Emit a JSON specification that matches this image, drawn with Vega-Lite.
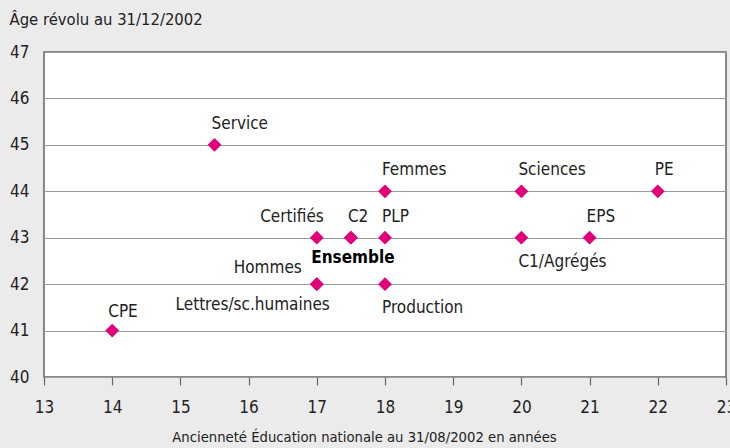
{
  "$schema": "https://vega.github.io/schema/vega-lite/v6.json",
  "width": 682,
  "height": 325,
  "autosize": {"type": "none"},
  "padding": {"left": 44, "top": 52, "right": 4, "bottom": 71},
  "background": "#ebebeb",
  "config": {
    "font": "DejaVu Sans Condensed, Roboto, sans-serif",
    "view": {"fill": "white", "stroke": "#666666", "strokeWidth": 1.5},
    "axis": {"labelFont": "DejaVu Sans Condensed, Roboto, sans-serif", "titleFont": "DejaVu Sans Condensed, Roboto, sans-serif", "labelColor": "#222", "titleColor": "#222"}
  },
  "data": {
    "values": [
      {"categorie": "CPE", "anciennete": 14, "age": 41},
      {"categorie": "Service", "anciennete": 15.5, "age": 45},
      {"categorie": "Hommes", "anciennete": 17, "age": 42},
      {"categorie": "Lettres/sc.humaines", "anciennete": 17, "age": 42},
      {"categorie": "Certifiés", "anciennete": 17, "age": 43},
      {"categorie": "C2", "anciennete": 17.5, "age": 43},
      {"categorie": "Ensemble", "anciennete": 17.5, "age": 43},
      {"categorie": "PLP", "anciennete": 18, "age": 43},
      {"categorie": "Femmes", "anciennete": 18, "age": 44},
      {"categorie": "Production", "anciennete": 18, "age": 42},
      {"categorie": "Sciences", "anciennete": 20, "age": 44},
      {"categorie": "C1/Agrégés", "anciennete": 20, "age": 43},
      {"categorie": "EPS", "anciennete": 21, "age": 43},
      {"categorie": "PE", "anciennete": 22, "age": 44}
    ]
  },
  "encoding": {
    "x": {
      "field": "anciennete", "type": "quantitative",
      "scale": {"domain": [13, 23], "nice": false, "zero": false},
      "axis": {
        "title": "Ancienneté Éducation nationale au 31/08/2002 en années",
        "values": [13,14,15,16,17,18,19,20,21,22,23],
        "grid": false, "domain": false, "ticks": true, "tickColor": "#666", "tickSize": 8, "tickWidth": 1.2,
        "labelFontSize": 17, "labelPadding": 14, "labelOverlap": false, "titleFontSize": 14.7, "titleFontWeight": "normal", "titlePadding": 14,
        "titleX": 320, "titleAlign": "center",
        "labelFlush": false
      }
    },
    "y": {
      "field": "age", "type": "quantitative",
      "scale": {"domain": [40, 47], "nice": false, "zero": false},
      "axis": {
        "title": "Âge révolu au 31/12/2002",
        "values": [40,41,42,43,44,45,46,47],
        "grid": true, "gridColor": "#9a9a9a", "gridWidth": 1,
        "domain": false, "ticks": false,
        "labelFontSize": 17, "labelPadding": 15, "labelFlush": false, "labelOverlap": false,
        "titleAngle": 0, "titleAlign": "left", "titleBaseline": "middle",
        "titleX": -35, "titleY": -33, "titleFontSize": 16.5, "titleFontWeight": "normal"
      }
    }
  },
  "layer": [
    {"mark": {"type": "point", "shape": "diamond", "filled": true, "size": 190, "color": "#e2007a", "opacity": 1}},
    {
      "transform": [{"filter": {"field": "categorie", "oneOf": ["Service", "Femmes", "Sciences", "PE", "EPS", "PLP", "C2"]}}],
      "mark": {"type": "text", "align": "left", "baseline": "middle", "dx": -3, "dy": -21, "fontSize": 17, "color": "#222"},
      "encoding": {"text": {"field": "categorie"}}
    },
    {
      "transform": [{"filter": {"field": "categorie", "equal": "CPE"}}],
      "mark": {"type": "text", "align": "left", "baseline": "middle", "dx": -4, "dy": -19, "fontSize": 17, "color": "#222"},
      "encoding": {"text": {"field": "categorie"}}
    },
    {
      "transform": [{"filter": {"field": "categorie", "equal": "Certifiés"}}],
      "mark": {"type": "text", "align": "right", "baseline": "middle", "dx": 7, "dy": -21, "fontSize": 17, "color": "#222"},
      "encoding": {"text": {"field": "categorie"}}
    },
    {
      "transform": [{"filter": {"field": "categorie", "equal": "Hommes"}}],
      "mark": {"type": "text", "align": "right", "baseline": "middle", "dx": -15, "dy": -16, "fontSize": 17, "color": "#222"},
      "encoding": {"text": {"field": "categorie"}}
    },
    {
      "transform": [{"filter": {"field": "categorie", "equal": "Ensemble"}}],
      "mark": {"type": "text", "align": "center", "baseline": "middle", "dx": 2, "dy": 20, "fontSize": 17, "fontWeight": "bold", "color": "#000"},
      "encoding": {"text": {"field": "categorie"}}
    },
    {
      "transform": [{"filter": {"field": "categorie", "equal": "Lettres/sc.humaines"}}],
      "mark": {"type": "text", "align": "right", "baseline": "middle", "dx": 13, "dy": 21, "fontSize": 17, "color": "#222"},
      "encoding": {"text": {"field": "categorie"}}
    },
    {
      "transform": [{"filter": {"field": "categorie", "oneOf": ["Production", "C1/Agrégés"]}}],
      "mark": {"type": "text", "align": "left", "baseline": "middle", "dx": -3, "dy": 24, "fontSize": 17, "color": "#222"},
      "encoding": {"text": {"field": "categorie"}}
    }
  ]
}
